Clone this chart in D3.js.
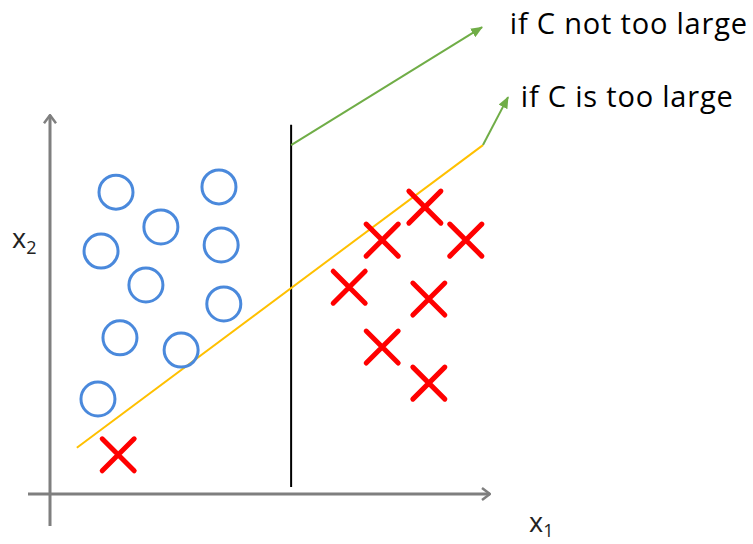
<!DOCTYPE html>
<html>
<head>
<meta charset="utf-8">
<script src="https://cdn.jsdelivr.net/npm/d3@7"></script>
<style>
  body { margin: 0; background: #fff; }
  svg { display: block; font-family: "Open Sans", Lato, sans-serif; }
</style>
</head>
<body>
<svg></svg>
<script>
var width = 753;
var height = 544;

// class o (blue circles)
var circleX = [1.50, 3.84, 2.52, 1.16, 3.89, 2.18, 3.95, 1.59, 2.98, 1.09];
var circleY = [6.86, 6.98, 6.07, 5.52, 5.66, 4.75, 4.32, 3.55, 3.27, 2.16];
// class x (red crosses)
var crossX = [1.55, 8.52, 7.55, 9.45, 6.80, 8.61, 7.55, 8.61];
var crossY = [0.89, 6.52, 5.77, 5.77, 4.70, 4.43, 3.34, 2.52];

// decision boundaries
var boundaryNotLarge = [[5.48, 0.16], [5.48, 8.39]];
var boundaryTooLarge = [[0.61, 1.05], [9.84, 7.93]];
var arrowNotLarge = [[5.48, 7.93], [9.82, 10.61]];
var arrowTooLarge = [[9.84, 7.93], [10.41, 9.02]];
var labels = ["if C not too large", "if C is too large"];

var x = d3.scaleLinear().domain([0, 10]).range([50, 490]);
var y = d3.scaleLinear().domain([0, 10]).range([494, 54]);

var svg = d3.select("svg")
            .attr("width", width)
            .attr("height", height);

var defs = svg.append("defs");
defs.append("marker")
    .attr("id", "greenHead")
    .attr("viewBox", "0 0 12 10")
    .attr("refX", 11).attr("refY", 5)
    .attr("markerWidth", 12).attr("markerHeight", 10)
    .attr("markerUnits", "userSpaceOnUse")
    .attr("orient", "auto")
  .append("path")
    .attr("d", "M0,0 L12,5 L0,10 Z")
    .attr("fill", "#70ad47");
defs.append("marker")
    .attr("id", "grayHead")
    .attr("viewBox", "0 0 10 14")
    .attr("refX", 9).attr("refY", 7)
    .attr("markerWidth", 10).attr("markerHeight", 14)
    .attr("markerUnits", "userSpaceOnUse")
    .attr("orient", "auto")
  .append("path")
    .attr("d", "M1,1 L9,7 L1,13")
    .attr("fill", "none")
    .attr("stroke", "#7f7f7f")
    .attr("stroke-width", 2.5);

var line = d3.line().x(d => x(d[0])).y(d => y(d[1]));

// axes
svg.append("path")
    .attr("d", line([[0, -0.73], [0, 8.61]]))
    .attr("stroke", "#7f7f7f").attr("stroke-width", 3)
    .attr("marker-end", "url(#grayHead)");
svg.append("path")
    .attr("d", line([[-0.5, 0], [10, 0]]))
    .attr("stroke", "#7f7f7f").attr("stroke-width", 3)
    .attr("marker-end", "url(#grayHead)");

// boundaries
svg.append("path")
    .attr("d", line(boundaryNotLarge))
    .attr("stroke", "#000").attr("stroke-width", 2);
svg.append("path")
    .attr("d", line(boundaryTooLarge))
    .attr("stroke", "#ffc000").attr("stroke-width", 2);

svg.selectAll(".pointer")
    .data([arrowNotLarge, arrowTooLarge])
    .enter()
    .append("path")
        .classed("pointer", true)
        .attr("d", line)
        .attr("stroke", "#70ad47").attr("stroke-width", 2)
        .attr("fill", "none")
        .attr("marker-end", "url(#greenHead)");

// points
svg.selectAll(".pos")
    .data(d3.range(circleX.length))
    .enter()
    .append("circle")
        .classed("pos", true)
        .attr("cx", i => x(circleX[i]))
        .attr("cy", i => y(circleY[i]))
        .attr("r", 17)
        .attr("fill", "none")
        .attr("stroke", "#4a89dc")
        .attr("stroke-width", 3);

var s = 16;
svg.selectAll(".neg")
    .data(d3.range(crossX.length))
    .enter()
    .append("path")
        .classed("neg", true)
        .attr("d", i => {
            var cx = x(crossX[i]), cy = y(crossY[i]);
            return "M" + (cx - s) + "," + (cy - s) + "L" + (cx + s) + "," + (cy + s) +
                   "M" + (cx - s) + "," + (cy + s) + "L" + (cx + s) + "," + (cy - s);
        })
        .attr("stroke", "#ff0000")
        .attr("stroke-width", 5)
        .attr("stroke-linecap", "round");

// text
svg.append("text")
    .attr("x", x(10.45)).attr("y", y(10.45))
    .style("font-size", "29px").style("letter-spacing", "0.8px").attr("fill", "#000")
    .text(labels[0]);
svg.append("text")
    .attr("x", x(10.7)).attr("y", y(8.8))
    .style("font-size", "29px").style("letter-spacing", "0.8px").attr("fill", "#000")
    .text(labels[1]);

var xl2 = svg.append("text")
    .attr("x", 12).attr("y", 248)
    .style("font-size", "27px").attr("fill", "#222");
xl2.append("tspan").text("x");
xl2.append("tspan").attr("dy", 6).style("font-size", "18px").text("2");

var xl1 = svg.append("text")
    .attr("x", 529).attr("y", 532)
    .style("font-size", "27px").attr("fill", "#222");
xl1.append("tspan").text("x");
xl1.append("tspan").attr("dy", 5).style("font-size", "18px").text("1");
</script>
</body>
</html>
